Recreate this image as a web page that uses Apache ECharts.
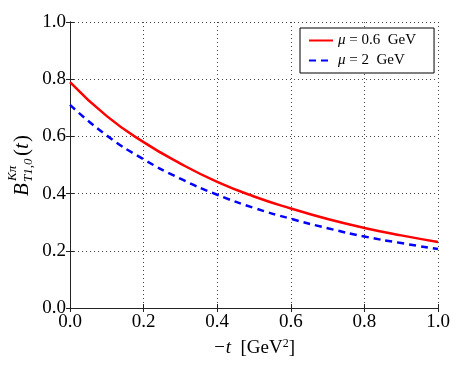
<!DOCTYPE html>
<html>
<head>
<meta charset="utf-8">
<script src="https://cdn.jsdelivr.net/npm/echarts@6/dist/echarts.min.js"></script>
<style>
  html, body { margin: 0; padding: 0; background: #fff; }
  #chart { width: 463px; height: 371px; }
</style>
</head>
<body>
<div id="chart"></div>
<script>
// -t values (GeV^2)
var tValues = [0.0, 0.1, 0.2, 0.3, 0.4, 0.5, 0.6, 0.7, 0.8, 0.9, 1.0];
var mu06 = [0.790, 0.671, 0.580, 0.505, 0.441, 0.390, 0.348, 0.311, 0.280, 0.254, 0.231];
var mu2  = [0.710, 0.603, 0.520, 0.452, 0.396, 0.350, 0.312, 0.279, 0.250, 0.227, 0.206];
var tickLabels = ['0.0', '0.2', '0.4', '0.6', '0.8', '1.0'];
var legendNames = ['μ = 0.6  GeV', 'μ = 2  GeV'];

var serif = '"Liberation Serif", "DejaVu Serif", serif';

function pairs(ys) {
  return tValues.map(function (t, i) { return [t, ys[i]]; });
}

var chart = echarts.init(document.getElementById('chart'), null, { renderer: 'canvas' });

var axisBase = {
  type: 'value', min: 0, max: 1, interval: 0.2,
  axisLine: { show: true, lineStyle: { color: '#222', width: 1 } },
  axisTick: { show: true, inside: true, length: 4, lineStyle: { color: '#222' } },
  splitLine: { show: false }
};

var option = {
  animation: false,
  backgroundColor: '#fff',
  grid: { left: 70, right: 25, top: 22, bottom: 63, show: false },
  legend: {
    left: 300, top: 28, orient: 'vertical',
    backgroundColor: '#fff',
    borderColor: '#000', borderWidth: 1,
    padding: [5, 18, 5, 8],
    itemWidth: 24, itemHeight: 10, itemGap: 5,
    itemStyle: { opacity: 0 },
    data: legendNames,
    formatter: function (name) {
      return name.replace('μ', '{i|μ}');
    },
    textStyle: {
      fontFamily: serif, fontSize: 15, color: '#000',
      rich: { i: { fontFamily: serif, fontStyle: 'italic', fontSize: 15, color: '#000' } }
    }
  },
  xAxis: [
    Object.assign({}, axisBase, {
      position: 'bottom',
      name: '{i|−t}  [GeV{s|2}]',
      nameLocation: 'middle', nameGap: 30,
      nameTextStyle: {
        fontFamily: serif, fontSize: 19, color: '#000',
        rich: {
          i: { fontFamily: serif, fontStyle: 'italic', fontSize: 19, color: '#000' },
          s: { fontFamily: serif, fontSize: 12, color: '#000', verticalAlign: 'top', padding: [0, 0, 8, 0] }
        }
      },
      axisLabel: {
        margin: 5, fontFamily: serif, fontSize: 19, color: '#000',
        formatter: function (v) { return tickLabels[Math.round(v / 0.2)]; }
      },
      splitLine: { show: true, lineStyle: { color: '#444', type: [1, 3], width: 1 } }
    }),
    Object.assign({}, axisBase, {
      position: 'top', axisLabel: { show: false }
    })
  ],
  yAxis: [
    Object.assign({}, axisBase, {
      position: 'left',
      axisLabel: {
        margin: 4, fontFamily: serif, fontSize: 19, color: '#000',
        formatter: function (v) { return tickLabels[Math.round(v / 0.2)]; }
      },
      splitLine: { show: true, lineStyle: { color: '#444', type: [1, 3], width: 1 } }
    }),
    Object.assign({}, axisBase, {
      position: 'right', axisLabel: { show: false }
    })
  ],
  graphic: [{
    type: 'group',
    x: 22, y: 196,
    rotation: Math.PI / 2,
    children: [
      { type: 'text', x: 0, y: 0, style: { text: 'B', font: 'italic 21px ' + serif, fill: '#000', verticalAlign: 'middle' } },
      { type: 'text', x: 15, y: -9, style: { text: 'Kπ', font: 'italic 13px ' + serif, fill: '#000', verticalAlign: 'middle' } },
      { type: 'text', x: 14, y: 7, style: { text: 'T1,0', font: 'italic 13px ' + serif, fill: '#000', verticalAlign: 'middle' } },
      { type: 'text', x: 40, y: 0, style: { text: '(', font: '21px ' + serif, fill: '#000', verticalAlign: 'middle' } },
      { type: 'text', x: 47, y: 0, style: { text: 't', font: 'italic 21px ' + serif, fill: '#000', verticalAlign: 'middle' } },
      { type: 'text', x: 54, y: 0, style: { text: ')', font: '21px ' + serif, fill: '#000', verticalAlign: 'middle' } }
    ]
  }],
  series: [
    {
      name: legendNames[0], type: 'line', data: pairs(mu06),
      smooth: true, symbol: 'none',
      lineStyle: { color: '#ff0000', width: 2.5, type: 'solid' },
      itemStyle: { color: '#ff0000' }
    },
    {
      name: legendNames[1], type: 'line', data: pairs(mu2),
      smooth: true, symbol: 'none',
      lineStyle: { color: '#0000ff', width: 2.5, type: [7, 5] },
      itemStyle: { color: '#0000ff' }
    }
  ]
};

chart.setOption(option);
</script>
</body>
</html>
